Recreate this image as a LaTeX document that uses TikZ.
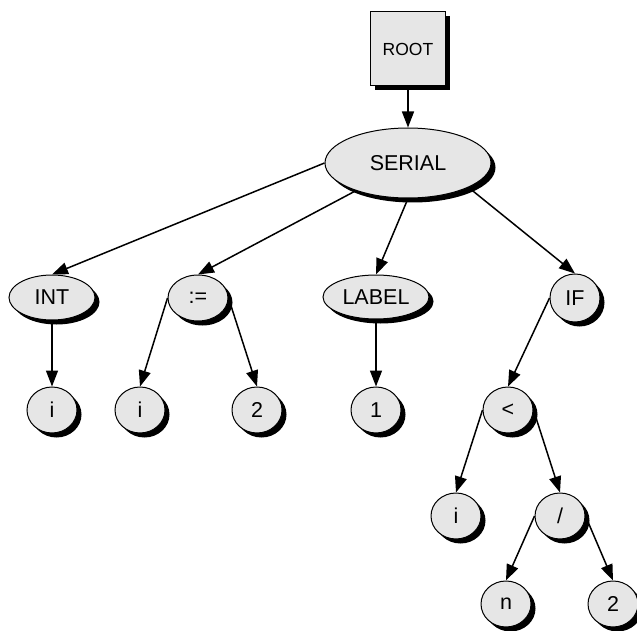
\documentclass[tikz,border=0pt]{standalone}
\usepackage{fontspec}
\setmainfont{Liberation Sans}
\usetikzlibrary{shapes.geometric,shadows,arrows.meta}
\definecolor{nodegray}{RGB}{230,230,230}
\tikzset{
  base/.style={draw=black, line width=1pt, fill=nodegray, inner sep=0pt,
    drop shadow={shadow xshift=4.5pt, shadow yshift=-4.5pt, fill=black, opacity=1},
    font=\fontsize{21.5}{24}\selectfont},
  ell/.style={base, ellipse, minimum width=#1, minimum height=46pt},
  ell/.default=50pt,
  rootbox/.style={base, rectangle, minimum width=75pt, minimum height=74pt,
    font=\fontsize{17.5}{20}\selectfont},
  edge/.style={line width=1.5pt, -{Triangle[length=16pt,width=12pt]}}
}
\begin{document}
\begin{tikzpicture}[x=1pt, y=-1pt]
\useasboundingbox (0,0) rectangle (637,631);
\clip (0,0) rectangle (637,631);
\node[rootbox] (root) at (408,49) {ROOT};
\node[base, ellipse, minimum width=166pt, minimum height=70pt] (serial) at (408,163) {SERIAL};
\node[ell=86pt, minimum height=45pt] (int) at (52,297.5) {INT};
\node[ell=60pt] (assign) at (198,298) {:=};
\node[ell=106pt, minimum height=44pt] (label) at (376,297) {LABEL};
\node[ell=50pt, minimum height=48pt] (if) at (575,298) {IF};
\node[ell] (iA) at (52,410) {i};
\node[ell] (iB) at (140,410) {i};
\node[ell] (twoA) at (257,410) {2};
\node[ell] (one) at (376,410) {1};
\node[ell] (lt) at (508,410) {<};
\node[ell] (iC) at (456,516) {i};
\node[ell] (div) at (560,516) {/};
\node[ell] (n) at (506,604) {n};
\node[ell] (twoB) at (613,604) {2};
\draw[edge] (root.south) -- (serial.north);
\draw[edge] (serial.west) -- (int.north);
\draw[edge] (serial.208) -- (assign.north);
\draw[edge] (serial.south) -- (label.north);
\draw[edge] (serial.-22) -- (if.north);
\draw[edge] (int.south) -- (iA.north);
\draw[edge] (assign.west) -- (iB.north);
\draw[edge] (assign.east) -- (twoA.north);
\draw[edge] (label.south) -- (one.north);
\draw[edge] (if.west) -- (lt.north);
\draw[edge] (lt.west) -- (iC.north);
\draw[edge] (lt.east) -- (div.north);
\draw[edge] (div.west) -- (n.north);
\draw[edge] (div.east) -- (twoB.north);
\end{tikzpicture}
\end{document}
